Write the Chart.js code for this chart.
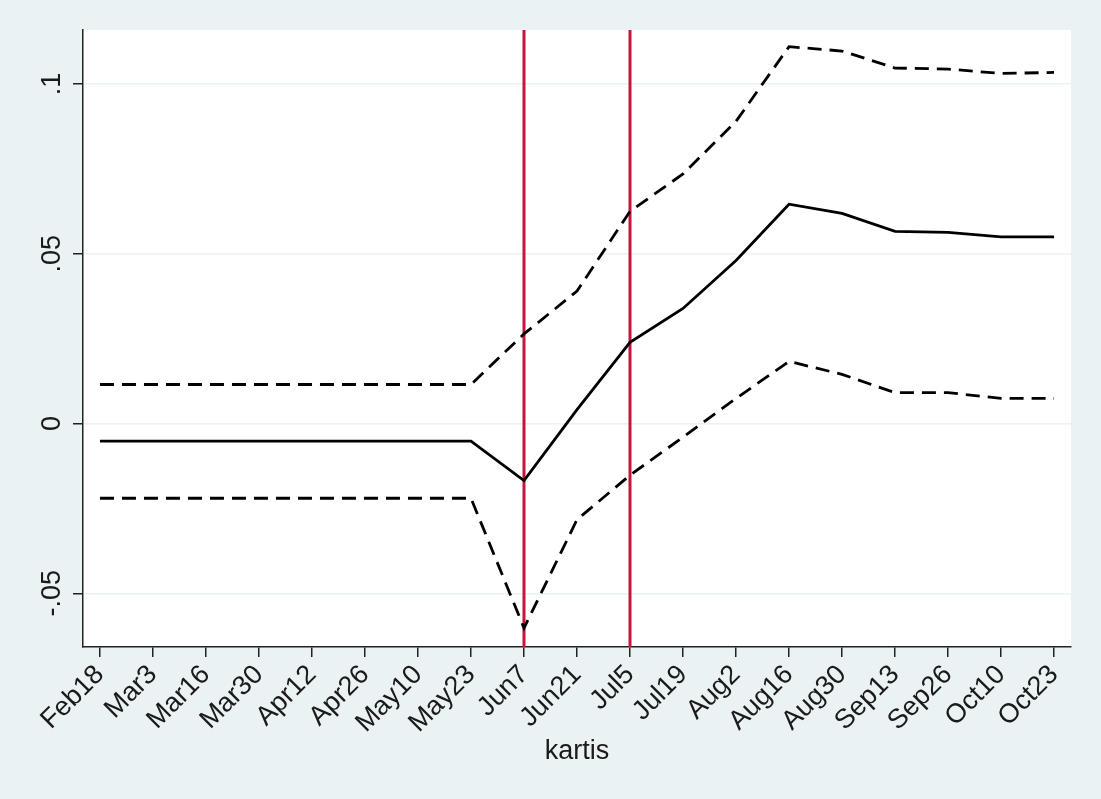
<!DOCTYPE html>
<html>
<head>
<meta charset="utf-8">
<script src="https://cdn.jsdelivr.net/npm/chart.js@4.4.1/dist/chart.umd.min.js"></script>
<style>
    body { margin: 0; background: #EAF2F3; }
    canvas { display: block; }
</style>
</head>
<body>
<canvas id="grafica" width="1101" height="799"></canvas>
<script>
const semanas = ["Feb18", "Mar3", "Mar16", "Mar30", "Apr12", "Apr26", "May10", "May23", "Jun7",
    "Jun21", "Jul5", "Jul19", "Aug2", "Aug16", "Aug30", "Sep13", "Sep26", "Oct10", "Oct23"];

const estimacion = [-0.0052, -0.0052, -0.0052, -0.0052, -0.0052, -0.0052, -0.0052, -0.0052, -0.0168,
    0.0041, 0.0239, 0.0339, 0.0480, 0.0646, 0.0619, 0.0566, 0.0563, 0.0550, 0.0550];
const limiteSuperior = [0.0115, 0.0115, 0.0115, 0.0115, 0.0115, 0.0115, 0.0115, 0.0115, 0.0264,
    0.0390, 0.0625, 0.0735, 0.0890, 0.1110, 0.1097, 0.1047, 0.1044, 0.1031, 0.1034];
const limiteInferior = [-0.0220, -0.0220, -0.0220, -0.0220, -0.0220, -0.0220, -0.0220, -0.0220, -0.0602,
    -0.0283, -0.0152, -0.0040, 0.0074, 0.0183, 0.0145, 0.0091, 0.0091, 0.0074, 0.0074];

const marcasY = [-0.05, 0, 0.05, 0.1];
const etiquetasY = ["-.05", "0", ".05", ".1"];
const semanasEvento = ["Jun7", "Jul5"];

const fuente = "'Liberation Sans', Arial, sans-serif";
const colorTexto = "#1a1a1a";

function puntos(serie) {
    return serie.map((v, i) => ({x: i, y: v}));
}

// fondo gris y area de trazado blanca
const fondo = {
    id: "fondo",
    beforeDraw(chart) {
        const {ctx, chartArea} = chart;
        ctx.save();
        ctx.fillStyle = "#EAF2F3";
        ctx.fillRect(0, 0, chart.width, chart.height);
        ctx.fillStyle = "#ffffff";
        ctx.fillRect(chartArea.left, chartArea.top, chartArea.right - chartArea.left, chartArea.bottom - chartArea.top);
        ctx.restore();
    }
};

// lineas verticales rojas
const lineasEvento = {
    id: "lineasEvento",
    beforeDatasetsDraw(chart) {
        const {ctx, chartArea, scales} = chart;
        ctx.save();
        ctx.strokeStyle = "#C8143C";
        ctx.lineWidth = 3;
        semanasEvento.forEach(s => {
            const x = scales.x.getPixelForValue(semanas.indexOf(s));
            ctx.beginPath();
            ctx.moveTo(x, chartArea.top);
            ctx.lineTo(x, chartArea.bottom);
            ctx.stroke();
        });
        ctx.restore();
    }
};

// etiquetas del eje y giradas
const etiquetasEjeY = {
    id: "etiquetasEjeY",
    afterDraw(chart) {
        const {ctx, scales} = chart;
        ctx.save();
        ctx.font = "27px " + fuente;
        ctx.fillStyle = colorTexto;
        ctx.textAlign = "center";
        ctx.textBaseline = "alphabetic";
        marcasY.forEach((v, i) => {
            const y = scales.y.getPixelForValue(v);
            ctx.save();
            ctx.translate(60, y);
            ctx.rotate(-Math.PI / 2);
            ctx.fillText(etiquetasY[i], 0, 0);
            ctx.restore();
        });
        ctx.restore();
    }
};

const lineaBase = {
    borderColor: "#000000",
    borderWidth: 2.8,
    pointRadius: 0,
    tension: 0,
    fill: false
};

new Chart(document.getElementById("grafica"), {
    type: "line",
    data: {
        datasets: [
            Object.assign({label: "sup", data: puntos(limiteSuperior), borderDash: [14, 8]}, lineaBase),
            Object.assign({label: "coef", data: puntos(estimacion)}, lineaBase),
            Object.assign({label: "inf", data: puntos(limiteInferior), borderDash: [14, 8]}, lineaBase)
        ]
    },
    options: {
        responsive: false,
        animation: false,
        layout: {padding: {top: 30, right: 30, left: 0, bottom: 0}},
        plugins: {
            legend: {display: false},
            tooltip: {enabled: false}
        },
        scales: {
            x: {
                type: "linear",
                min: -0.32,
                max: semanas.length - 1 + 0.32,
                afterBuildTicks: scale => {
                    scale.ticks = semanas.map((s, i) => ({value: i}));
                },
                afterFit: scale => {
                    scale.height = 152;
                },
                ticks: {
                    autoSkip: false,
                    minRotation: 45,
                    maxRotation: 45,
                    padding: 2,
                    color: colorTexto,
                    font: {family: fuente, size: 27},
                    callback: v => semanas[v]
                },
                grid: {drawOnChartArea: false, drawTicks: true, tickLength: 10, color: "#222", lineWidth: 1.5},
                border: {display: true, color: "#222", width: 1.5},
                title: {
                    display: true,
                    text: "kartis",
                    color: colorTexto,
                    font: {family: fuente, size: 27},
                    padding: {top: 0, bottom: 31}
                }
            },
            y: {
                min: -0.0658,
                max: 0.1159,
                afterBuildTicks: scale => {
                    scale.ticks = marcasY.map(v => ({value: v}));
                },
                afterFit: scale => {
                    scale.width = 83;
                },
                ticks: {
                    color: "rgba(0,0,0,0)",
                    font: {family: fuente, size: 27}
                },
                grid: {color: "#EAF2F3", lineWidth: 1.5, tickColor: "#222", tickLength: 10},
                border: {display: true, color: "#222", width: 1.5}
            }
        }
    },
    plugins: [fondo, lineasEvento, etiquetasEjeY]
});
</script>
</body>
</html>
